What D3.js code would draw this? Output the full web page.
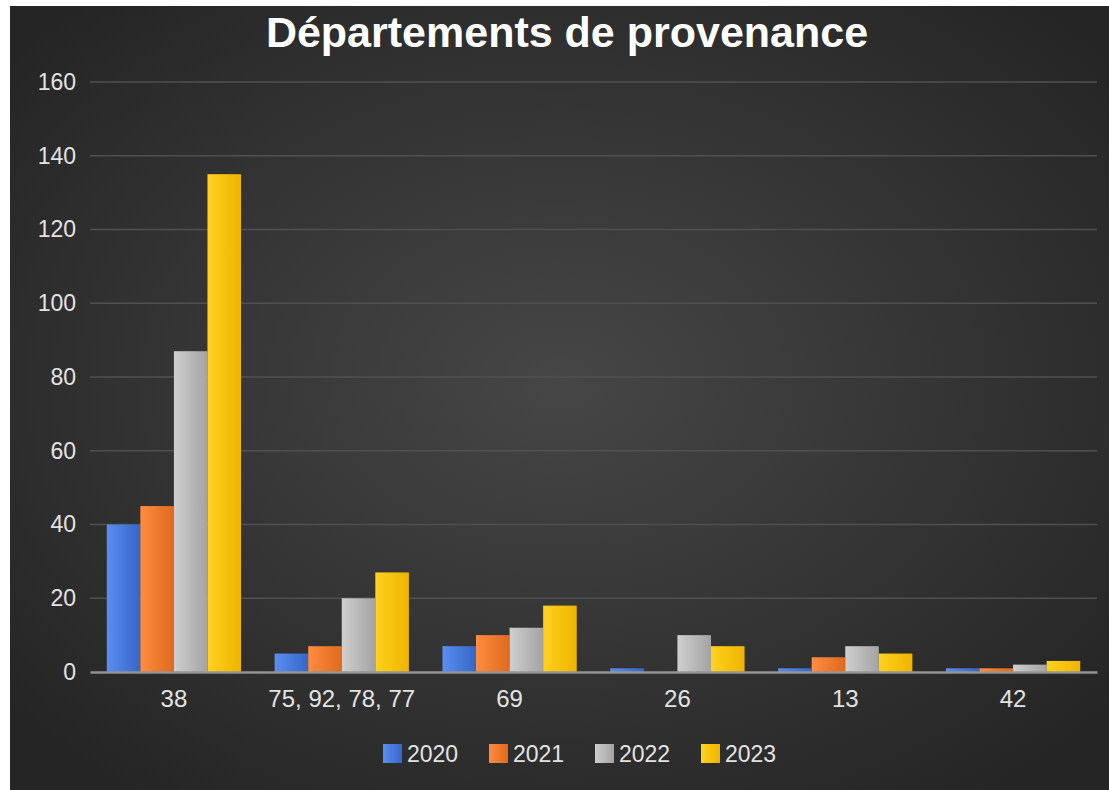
<!DOCTYPE html>
<html>
<head>
<meta charset="UTF-8">
<title>Départements de provenance</title>
<script src="https://d3js.org/d3.v7.min.js"></script>
<style>
  body { margin: 0; background: #ffffff; }
  text { font-family: "Liberation Sans", Arial, sans-serif; }
</style>
</head>
<body>
<script>
// data
var categories = ["38", "75, 92, 78, 77", "69", "26", "13", "42"];
var years = ["2020", "2021", "2022", "2023"];
var values2020 = [40, 5, 7, 1, 1, 1];
var values2021 = [45, 7, 10, 0, 4, 1];
var values2022 = [87, 20, 12, 10, 7, 2];
var values2023 = [135, 27, 18, 7, 5, 3];
var yTicks = [0, 20, 40, 60, 80, 100, 120, 140, 160];

var seriesValues = [values2020, values2021, values2022, values2023];
var colors = [
  ["#5a8ef0", "#3566c8"],
  ["#ff8c42", "#e06a1c"],
  ["#cfcfcf", "#a3a3a3"],
  ["#ffd21f", "#eeb400"]
];

var W = 1109, H = 790;
var margin = {top: 82, right: 12, bottom: 118, left: 90};
var width = W - margin.left - margin.right,
    height = H - margin.top - margin.bottom;

var svg = d3.select("body").append("svg")
  .attr("width", W)
  .attr("height", H);

var defs = svg.append("defs");
var bg = defs.append("radialGradient").attr("id", "bg")
  .attr("cx", "50%").attr("cy", "48%").attr("r", "65%");
bg.append("stop").attr("offset", "0%").attr("stop-color", "#464646");
bg.append("stop").attr("offset", "100%").attr("stop-color", "#252525");

colors.forEach(function(c, i) {
  var g = defs.append("linearGradient").attr("id", "bar" + i)
    .attr("x1", "0%").attr("x2", "100%").attr("y1", "0%").attr("y2", "0%");
  g.append("stop").attr("offset", "0%").attr("stop-color", c[0]);
  g.append("stop").attr("offset", "100%").attr("stop-color", c[1]);
});

// chart frame
svg.append("rect")
  .attr("x", 10).attr("y", 6)
  .attr("width", W - 10).attr("height", H - 6)
  .attr("fill", "url(#bg)");

svg.append("text")
  .attr("x", 567).attr("y", 47)
  .attr("text-anchor", "middle")
  .attr("fill", "#ffffff")
  .attr("font-size", 43)
  .attr("font-weight", "bold")
  .text("Départements de provenance");

var g = svg.append("g")
  .attr("transform", "translate(" + margin.left + "," + margin.top + ")");

var x0 = d3.scaleBand()
  .domain(categories)
  .range([0, width])
  .paddingInner(0.2)
  .paddingOuter(0.1);

var x1 = d3.scaleBand()
  .domain(years)
  .range([0, x0.bandwidth()]);

var y = d3.scaleLinear()
  .domain([0, 160])
  .range([height, 0]);

// gridlines
g.append("g")
  .selectAll("line")
  .data(yTicks.slice(1))
  .join("line")
    .attr("x1", 0).attr("x2", width)
    .attr("y1", function(d) { return y(d); })
    .attr("y2", function(d) { return y(d); })
    .attr("stroke", "#505050")
    .attr("stroke-width", 1.5);

// y axis labels
var yAxis = d3.axisLeft(y).tickValues(yTicks).tickSize(0).tickPadding(14);
g.append("g")
  .call(yAxis)
  .call(function(a) { a.select(".domain").remove(); })
  .selectAll("text")
    .attr("fill", "#e3e3e3")
    .attr("font-size", 23)
    .attr("font-family", "Liberation Sans, Arial, sans-serif");

// bars
categories.forEach(function(cat, ci) {
  var grp = g.append("g").attr("transform", "translate(" + x0(cat) + ",0)");
  grp.selectAll("rect")
    .data(years.map(function(yr, si) { return {year: yr, s: si, v: seriesValues[si][ci]}; }))
    .join("rect")
      .attr("x", function(d) { return x1(d.year); })
      .attr("y", function(d) { return y(d.v); })
      .attr("width", x1.bandwidth())
      .attr("height", function(d) { return height - y(d.v); })
      .attr("fill", function(d) { return "url(#bar" + d.s + ")"; });
});

// x axis
var xAxis = d3.axisBottom(x0).tickSize(0).tickPadding(18);
g.append("g")
  .attr("transform", "translate(0," + height + ")")
  .call(xAxis)
  .call(function(a) {
    a.select(".domain").attr("stroke", "#939393").attr("stroke-width", 2.5);
  })
  .selectAll("text")
    .attr("fill", "#e3e3e3")
    .attr("font-size", 24)
    .attr("font-family", "Liberation Sans, Arial, sans-serif");

// legend
var legend = svg.append("g").attr("transform", "translate(383,744)");
var item = legend.selectAll("g")
  .data(years)
  .join("g")
    .attr("transform", function(d, i) { return "translate(" + (i * 106) + ",0)"; });
item.append("rect")
  .attr("width", 19).attr("height", 19)
  .attr("fill", function(d, i) { return "url(#bar" + i + ")"; });
item.append("text")
  .attr("x", 24).attr("y", 18)
  .attr("fill", "#e3e3e3")
  .attr("font-size", 23)
  .text(function(d) { return d; });
</script>
</body>
</html>
